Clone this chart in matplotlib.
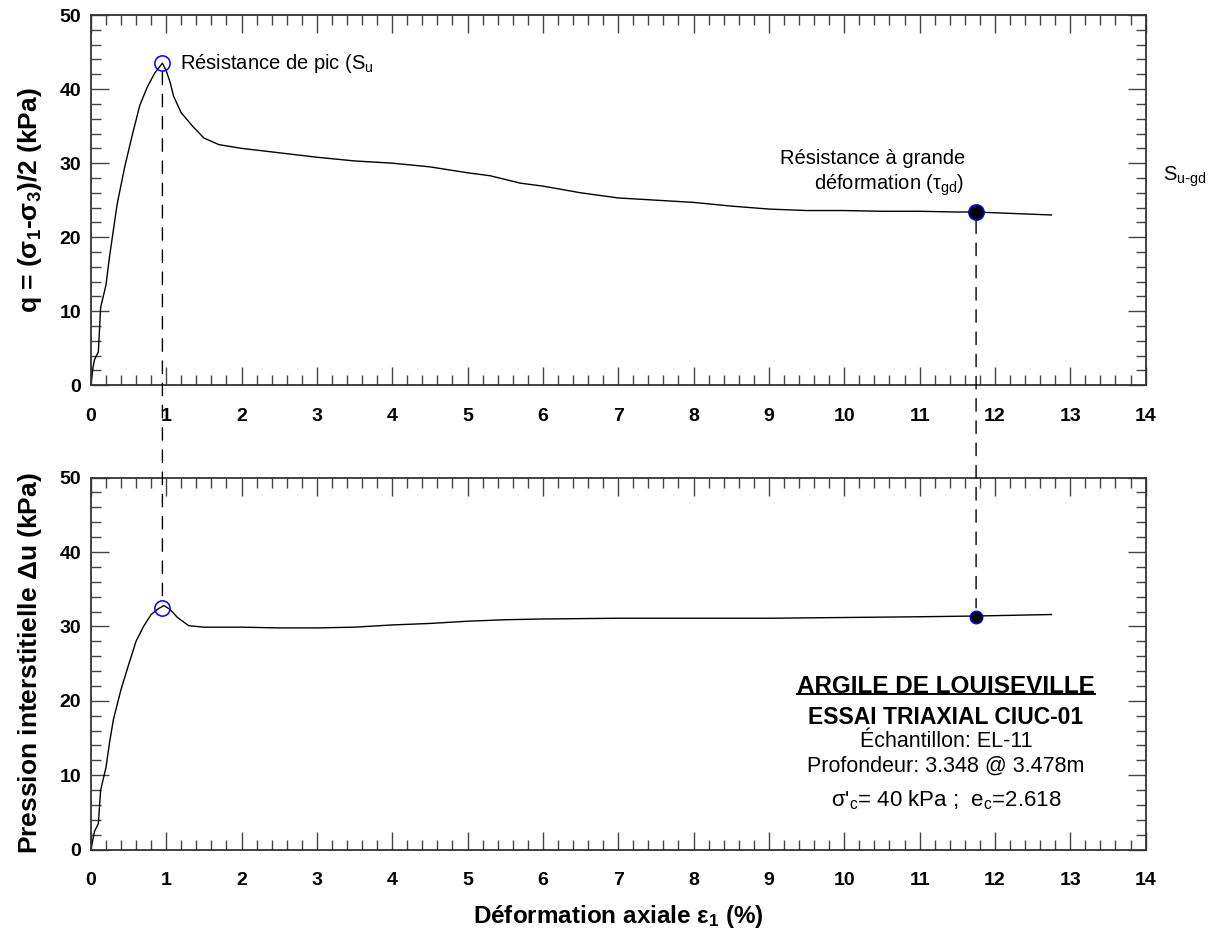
import matplotlib.pyplot as plt
from matplotlib.patches import ConnectionPatch
from matplotlib.lines import Line2D
from matplotlib.ticker import MultipleLocator

plt.rcParams['font.family'] = ['Liberation Sans', 'DejaVu Sans']
plt.rcParams['mathtext.default'] = 'regular'

# Courbe q = (s1-s3)/2 en fonction de la déformation axiale
eps_q = [0, 0.03, 0.05, 0.1, 0.13, 0.2, 0.25, 0.3, 0.35, 0.45, 0.55, 0.65, 0.75,
         0.85, 0.95, 1.0, 1.05, 1.1, 1.2, 1.35, 1.5, 1.7, 2.0, 2.5, 3.0, 3.5,
         4.0, 4.5, 5.0, 5.3, 5.7, 6.0, 6.5, 7.0, 7.5, 8.0, 8.5, 9.0, 9.5,
         10.0, 10.5, 11.0, 11.5, 11.75, 12.0, 12.5, 12.75]
q = [0, 2.5, 3.5, 4.5, 10.5, 13.5, 17.5, 21.0, 24.5, 29.5, 33.8, 37.8, 40.3,
     42.2, 43.5, 42.5, 41.0, 39.0, 36.8, 35.0, 33.4, 32.5, 32.0, 31.4, 30.8, 30.3,
     30.0, 29.5, 28.7, 28.3, 27.3, 26.9, 26.0, 25.3, 25.0, 24.7, 24.2, 23.8, 23.6,
     23.6, 23.5, 23.5, 23.4, 23.4, 23.3, 23.1, 23.0]

# Courbe de pression interstitielle
eps_u = [0, 0.03, 0.05, 0.1, 0.13, 0.2, 0.25, 0.3, 0.4, 0.5, 0.6, 0.7, 0.8,
         0.9, 0.97, 1.05, 1.15, 1.3, 1.5, 2.0, 2.5, 3.0, 3.5, 4.0, 4.5, 5.0,
         5.5, 6.0, 7.0, 8.0, 9.0, 10.0, 11.0, 11.75, 12.75]
du = [0, 1.5, 2.5, 3.5, 8.0, 11.0, 14.5, 17.5, 21.5, 24.8, 28.0, 30.0, 31.6,
      32.4, 32.8, 32.3, 31.2, 30.1, 29.9, 29.9, 29.8, 29.8, 29.9, 30.2, 30.4, 30.7,
      30.9, 31.0, 31.1, 31.1, 31.1, 31.2, 31.3, 31.4, 31.6]

# Points caractéristiques
eps_pic = 0.95
q_pic = 43.5
u_pic = 32.5
eps_gd = 11.75
q_gd = 23.4
u_gd = 31.3

fig = plt.figure(figsize=(12.11, 9.42), dpi=100)
ax1 = fig.add_axes([0.075, 0.591, 0.871, 0.393])
ax2 = fig.add_axes([0.075, 0.098, 0.871, 0.395])

for ax in (ax1, ax2):
    ax.set_xlim(0, 14)
    ax.set_ylim(0, 50)
    ax.xaxis.set_major_locator(MultipleLocator(1))
    ax.xaxis.set_minor_locator(MultipleLocator(0.2))
    ax.yaxis.set_major_locator(MultipleLocator(10))
    ax.yaxis.set_minor_locator(MultipleLocator(2))
    ax.tick_params(which='both', direction='in', top=True, right=True, color='#444444')
    ax.tick_params(which='major', length=13, width=1.0)
    ax.tick_params(which='minor', length=7, width=1.0)
    ax.tick_params(axis='x', pad=16, labelsize=14)
    ax.tick_params(axis='y', pad=7, labelsize=14)
    for lab in ax.get_xticklabels() + ax.get_yticklabels():
        lab.set_fontweight('bold')
    for s in ax.spines.values():
        s.set_color('#333333')
        s.set_linewidth(1.3)

ax1.plot(eps_q, q, color='black', lw=1.0)
ax1.plot(eps_pic, q_pic, 'o', ms=11, mfc='none', mec='blue', mew=1.1)
ax1.plot(eps_gd, q_gd, 'o', ms=11, mfc='black', mec='blue', mew=1.1)

ax2.plot(eps_u, du, color='black', lw=1.0)
ax2.plot(eps_pic, u_pic, 'o', ms=11, mfc='none', mec='blue', mew=1.1)
ax2.plot(eps_gd, u_gd, 'o', ms=9, mfc='black', mec='blue', mew=1.0)

# lignes pointillées reliant les deux graphiques
for x, ya, yb in [(eps_pic, q_pic, u_pic), (eps_gd, q_gd, u_gd)]:
    con = ConnectionPatch(xyA=(x, ya - 1.2), coordsA=ax1.transData,
                          xyB=(x, yb + 1.2), coordsB=ax2.transData,
                          color='black', lw=1.0, linestyle=(0, (9, 7)))
    fig.add_artist(con)

ax1.set_ylabel(r'q = ($\sigma_1$-$\sigma_3$)/2 (kPa)', fontsize=19, fontweight='bold')
ax2.set_ylabel(r'Pression interstitielle $\Delta$u (kPa)', fontsize=19, fontweight='bold')
ax1.yaxis.set_label_coords(-0.044, 0.5)
ax2.yaxis.set_label_coords(-0.044, 0.5)
ax2.set_xlabel(r'Déformation axiale $\varepsilon_1$ (%)', fontsize=17.5, fontweight='bold',
               labelpad=10)

ax1.text(1.19, 43.5, 'Résistance de pic (S$_{u}$', fontsize=14.5, va='center')
ax1.text(11.6, 28.6, 'Résistance à grande\ndéformation ($\\tau_{gd}$)', fontsize=14.5,
         ha='right', va='center', multialignment='right', linespacing=1.3)
ax1.text(14.23, 28.2, 'S$_{u\\text{-}gd}$', fontsize=14.5, va='center', clip_on=False)

t_title = ax2.text(11.35, 21.9, 'ARGILE DE LOUISEVILLE', fontsize=17.5, fontweight='bold',
                   ha='center', va='center')
ax2.text(11.35, 17.7, 'ESSAI TRIAXIAL CIUC-01', fontsize=16.5, fontweight='bold',
         ha='center', va='center')
ax2.text(11.35, 14.5, 'Échantillon: EL-11', fontsize=15.5, ha='center', va='center')
ax2.text(11.35, 11.2, 'Profondeur: 3.348 @ 3.478m', fontsize=15.5, ha='center', va='center')
ax2.text(11.35, 6.7, "$\\sigma$'$_c$= 40 kPa ;  e$_c$=2.618", fontsize=16,
         ha='center', va='center')

# soulignement du titre
fig.canvas.draw()
bb = t_title.get_window_extent().transformed(fig.transFigure.inverted())
fig.add_artist(Line2D([bb.x0, bb.x1], [bb.y0 + 0.004, bb.y0 + 0.004],
                      transform=fig.transFigure, color='black', lw=1.4))

plt.savefig('out.png', dpi=100)
